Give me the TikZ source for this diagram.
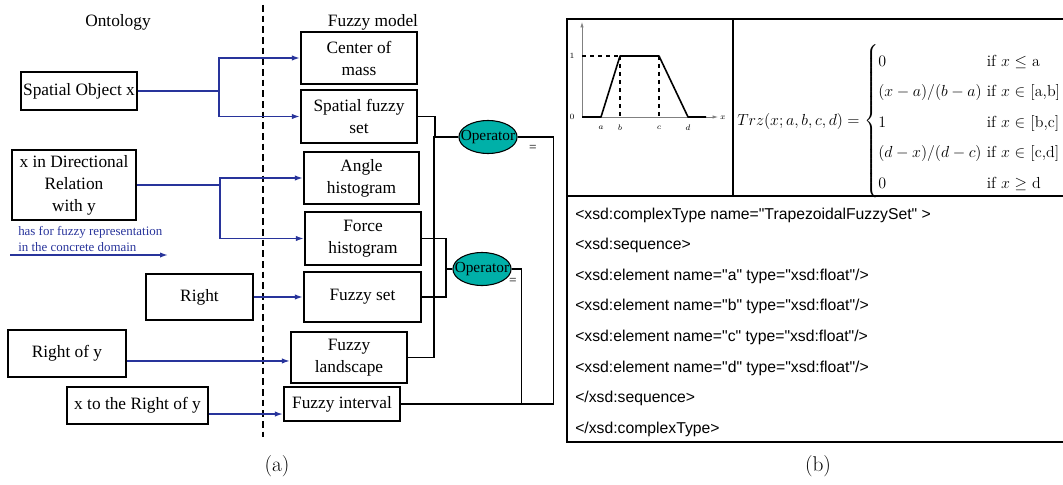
\documentclass[tikz,border=0pt]{standalone}
\usepackage{amsmath, amssymb}
\usepackage{fontspec}
\usepackage{xcolor}
\usepackage{tikz}
\usetikzlibrary{positioning, arrows.meta, calc, shapes.geometric}
\newfontfamily\serifA{Liberation Serif}
\newfontfamily\sansA{Liberation Sans}
\definecolor{linkblue}{RGB}{40,52,155}
\definecolor{opteal}{RGB}{0,176,168}

\begin{document}
\begin{tikzpicture}[x=0.75pt, y=-0.75pt,
  box/.style={draw, line width=1.6pt, align=center, inner sep=1pt,
    font=\serifA\fontsize{13}{16.5}\selectfont},
  op/.style={ellipse, draw, line width=0.8pt, fill=opteal, inner xsep=-5pt, inner ysep=0pt,
    minimum width=42pt, minimum height=24.75pt,
    font=\serifA\fontsize{11.5}{13}\selectfont},
  link/.style={linkblue, line width=1.1pt, -{Latex[length=6pt,width=4pt]}},
  wire/.style={line width=1.1pt},
  hdr/.style={font=\serifA\fontsize{13}{16}\selectfont},
  xsd/.style={anchor=west, inner sep=0pt, font=\sansA\fontsize{11.8}{14}\selectfont},
  tiny/.style={inner sep=0.5pt, font=\fontsize{6}{7}\selectfont}]

  \clip (0,0) rectangle (1063,485);

  % (a) ontology and fuzzy model
  \draw[line width=1.2pt, dash pattern=on 5pt off 3pt] (263,5) -- (263,437);
  \node[hdr] (onto) at (118,22) {Ontology};
  \node[hdr] (fmod) at (373,22) {Fuzzy model};

  \node[box, minimum width=87pt, minimum height=28.5pt] (spobj) at (79,91) {Spatial Object x};
  \node[box, minimum width=93pt, minimum height=52.5pt] (dirrel) at (74,185) {x in Directional\\Relation\\with y};
  \node[box, minimum width=80pt, minimum height=35pt] (right) at (199.5,297) {Right};
  \node[box, minimum width=88.5pt, minimum height=35pt] (rightof) at (67,353.5) {Right of y};
  \node[box, minimum width=105.75pt, minimum height=27.75pt] (xright) at (137.5,405.5) {x to the Right of y};

  \node[box, minimum width=87pt, minimum height=39pt] (com) at (359,58) {Center of\\mass};
  \node[box, minimum width=87pt, minimum height=39.75pt] (sfs) at (359,116.5) {Spatial fuzzy\\set};
  \node[box, minimum width=86.25pt, minimum height=39pt] (angh) at (361.5,178) {Angle\\histogram};
  \node[box, minimum width=87pt, minimum height=39.75pt] (forh) at (363,238.5) {Force\\histogram};
  \node[box, minimum width=87.75pt, minimum height=37.5pt] (fset) at (362.5,297) {Fuzzy set};
  \node[box, minimum width=87pt, minimum height=38.25pt] (fland) at (349,357.5) {Fuzzy\\landscape};
  \node[box, minimum width=87pt, minimum height=25.5pt] (fint) at (342,404) {Fuzzy interval};

  \node[op] (op1) at (488,137) {Operator};
  \node[op] (op2) at (482,269) {Operator};
  \node[font=\serifA\fontsize{10}{12}\selectfont, inner sep=0pt] (eq1) at (533,148) {=};
  \node[font=\serifA\fontsize{10}{12}\selectfont, inner sep=0pt] (eq2) at (513,281) {=};

  \draw[link] (spobj.east) -- ++(81,0) |- (com.west);
  \draw[link] (spobj.east) -- ++(81,0) |- (sfs.west);
  \draw[link] (dirrel.east) -- ++(83,0) |- (angh.west);
  \draw[link] (dirrel.east) -- ++(83,0) |- (forh.west);
  \draw[link] (right.east) -- (fset.west);
  \coordinate (ry) at ([yshift=-5.6pt]rightof.east);
  \draw[link] (ry) -- (ry -| fland.west);
  \coordinate (xr) at ([yshift=-6.4pt]xright.east);
  \draw[link] (xr) -- (xr -| fint.west);

  \coordinate (legA) at (10,255);
  \coordinate (legB) at (168,255);
  \draw[link] (legA) -- (legB);
  \node[anchor=south west, align=left, inner sep=0pt, text=linkblue,
    font=\serifA\fontsize{9.7}{12}\selectfont] (legtxt) at (18,252) {has for fuzzy representation\\in the concrete domain};

  \draw[wire] (sfs.east) -- ++(17,0) |- (op1.west);
  \draw[wire] (fland.east) -- ++(26,0) |- (op1.west);
  \draw[wire] (forh.east) -- ++(24,0) |- (op2.west);
  \draw[wire] (fset.east) -- ++(24,0) |- (op2.west);
  \draw[wire] (op1.east) -- ++(36,0) |- (fint.east);
  \draw[wire] (op2.east) -- ++(10,0) |- (fint.east);

  \node[font=\fontsize{16}{19}\selectfont] (capa) at (277,466) {(a)};

  % (b) trapezoidal fuzzy set
  \draw[line width=1.5pt] (567,19) rectangle (1080,442);
  \draw[line width=1.5pt] (567,196) -- (1080,196);
  \draw[line width=1.5pt] (733,19) -- (733,196);

  \coordinate (orig) at (582,117);
  \draw[gray, line width=0.5pt, -{Latex[length=4pt,width=2.5pt]}] (orig) -- (582,22);
  \draw[gray, line width=0.5pt, -{Latex[length=4pt,width=2.5pt]}] (orig) -- (718,117);
  \draw[dashed, line width=1pt] (582,56) -- (620,56) (620,56) -- (620,117) (659,56) -- (659,117);
  \draw[line width=1.2pt, line join=round] (orig) -- (601,117) -- (620,56) -- (659,56) -- (688,117) -- (706,117);
  \foreach \p/\lbl in {601/a, 620/b, 659/c, 688/d}
    \node[tiny] (tick-\lbl) at (\p,128) {$\lbl$};
  \node[tiny] (lvl1) at (572,56) {1};
  \node[tiny] (lvl0) at (572,117) {0};
  \node[tiny] (xlab) at (723,118) {$x$};

  \node[anchor=west, inner sep=0pt, font=\fontsize{12}{14.5}\selectfont] (trz) at (737,121)
    {\renewcommand{\arraystretch}{1.58}$Trz(x;a,b,c,d) = \left\{\begin{array}{@{}l@{\ }l@{}}
      0 & \text{if $x \leq$\ a}\\
      (x-a)/(b-a) & \text{if $x \in$ [a,b]}\\
      1 & \text{if $x \in$ [b,c]}\\
      (d-x)/(d-c) & \text{if $x \in$ [c,d]}\\
      0 & \text{if $x \geq$\ d}
    \end{array}\right.$};

  \foreach \ln [count=\k from 0] in {{<xsd:complexType name="TrapezoidalFuzzySet" >},
      {<xsd:sequence>},
      {<xsd:element  name="a" type="xsd:float"/>},
      {<xsd:element  name="b" type="xsd:float"/>},
      {<xsd:element  name="c" type="xsd:float"/>},
      {<xsd:element  name="d" type="xsd:float"/>},
      {</xsd:sequence>},
      {</xsd:complexType>}}
    \node[xsd] (xsd\k) at (575,{215+30.6*\k}) {\ln};

  \node[font=\fontsize{16}{19}\selectfont] (capb) at (818,466) {(b)};
\end{tikzpicture}
\end{document}
